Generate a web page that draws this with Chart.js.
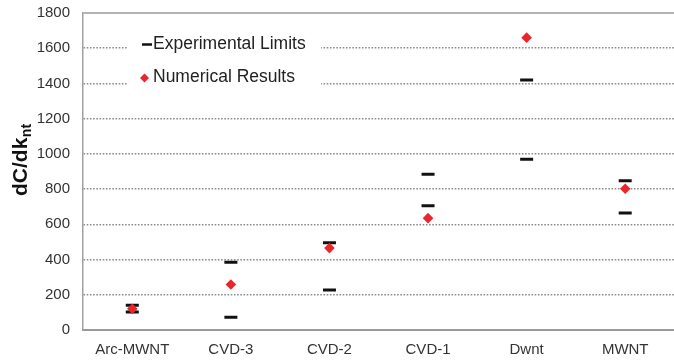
<!DOCTYPE html>
<html>
<head>
<meta charset="utf-8">
<script src="https://cdn.jsdelivr.net/npm/chart.js@4.4.1/dist/chart.umd.min.js"></script>
<style>
  html, body { margin: 0; padding: 0; background: #fff; overflow: hidden; }
  #wrap { width: 674px; height: 360px; overflow: hidden; }
  canvas { display: block; }
</style>
</head>
<body>
<div id="wrap"><canvas id="chart" width="684" height="360"></canvas></div>
<script>
// Nanotube types along the x axis
const categories = ['Arc-MWNT', 'CVD-3', 'CVD-2', 'CVD-1', 'Dwnt', 'MWNT'];
// Experimental bounds (upper and lower limit of each type)
const expUpper = [140, 385, 495, 885, 1420, 848];
const expLower = [102, 72, 227, 705, 970, 665];
// Values from the numerical model
const numerical = [120, 258, 465, 635, 1660, 802];
// Value axis range and step
const yMin = 0;
const yMax = 1800;
const yStep = 200;
// Texts
const legendLabels = ['Experimental Limits', 'Numerical Results'];
const yTitleMain = 'dC/dk';
const yTitleSub = 'nt';

const FONT = '"Liberation Sans", Arial, sans-serif';
const RED = '#e8262b';
const BLACK = '#111111';

// Solid line along the top of the plot area
const topFrame = {
  id: 'topFrame',
  beforeDatasetsDraw(chart) {
    const { ctx, chartArea } = chart;
    ctx.save();
    ctx.strokeStyle = '#b4b4b4';
    ctx.lineWidth = 2;
    ctx.beginPath();
    ctx.moveTo(chartArea.left, chartArea.top);
    ctx.lineTo(chartArea.right, chartArea.top);
    ctx.stroke();
    ctx.restore();
  }
};

// Legend box placed inside the plot area, upper left
const insideLegend = {
  id: 'insideLegend',
  beforeDatasetsDraw(chart) {
    const { ctx, chartArea } = chart;
    const x0 = chartArea.left;
    const y0 = chartArea.top;
    ctx.save();
    ctx.fillStyle = '#ffffff';
    ctx.fillRect(x0 + 44, y0 + 10, 194, 76);

    // dash marker
    ctx.strokeStyle = BLACK;
    ctx.lineWidth = 2.5;
    ctx.beginPath();
    ctx.moveTo(x0 + 59, y0 + 31.5);
    ctx.lineTo(x0 + 69, y0 + 31.5);
    ctx.stroke();

    // diamond marker
    const dx = x0 + 61.5, dy = y0 + 65, r = 4.5;
    ctx.fillStyle = RED;
    ctx.beginPath();
    ctx.moveTo(dx, dy - r);
    ctx.lineTo(dx + r, dy);
    ctx.lineTo(dx, dy + r);
    ctx.lineTo(dx - r, dy);
    ctx.closePath();
    ctx.fill();

    ctx.fillStyle = '#222222';
    ctx.font = '17.5px ' + FONT;
    ctx.textAlign = 'left';
    ctx.textBaseline = 'middle';
    ctx.fillText(legendLabels[0], x0 + 70, y0 + 31);
    ctx.fillText(legendLabels[1], x0 + 70, y0 + 64.5);
    ctx.restore();
  }
};

// Rotated y-axis title with subscript
const yTitle = {
  id: 'yTitle',
  afterDraw(chart) {
    const ctx = chart.ctx;
    ctx.save();
    ctx.translate(26.5, 196);
    ctx.rotate(-Math.PI / 2);
    ctx.fillStyle = BLACK;
    ctx.textAlign = 'left';
    ctx.textBaseline = 'alphabetic';
    ctx.font = 'bold 21px ' + FONT;
    ctx.fillText(yTitleMain, 0, 0);
    const w = ctx.measureText(yTitleMain).width;
    ctx.font = 'bold 14px ' + FONT;
    ctx.fillText(yTitleSub, w + 0.5, 4);
    ctx.restore();
  }
};

new Chart(document.getElementById('chart'), {
  type: 'line',
  data: {
    labels: categories,
    datasets: [
      {
        label: legendLabels[1],
        data: numerical,
        showLine: false,
        pointStyle: 'rectRot',
        pointRadius: 5.3,
        pointBackgroundColor: RED,
        pointBorderColor: RED,
        pointBorderWidth: 0,
        order: 0
      },
      {
        label: legendLabels[0],
        data: expUpper,
        showLine: false,
        pointStyle: 'line',
        pointRadius: 6.5,
        pointBorderColor: BLACK,
        pointBorderWidth: 3,
        order: 1
      },
      {
        label: legendLabels[0],
        data: expLower,
        showLine: false,
        pointStyle: 'line',
        pointRadius: 6.5,
        pointBorderColor: BLACK,
        pointBorderWidth: 3,
        order: 1
      }
    ]
  },
  options: {
    responsive: false,
    animation: false,
    events: [],
    layout: { padding: { top: 13, right: 2, left: 0, bottom: 0 } },
    plugins: {
      legend: { display: false },
      tooltip: { enabled: false }
    },
    scales: {
      x: {
        type: 'category',
        offset: true,
        grid: { display: false, drawTicks: false },
        border: { display: true, color: '#9a9a9a', width: 2 },
        ticks: {
          color: '#333333',
          font: { family: FONT, size: 15 },
          padding: 11,
          maxRotation: 0,
          autoSkip: false
        },
        afterFit(scale) {
          scale.height = 30;
          scale.paddingLeft = 0;
          scale.paddingRight = 0;
        }
      },
      y: {
        min: yMin,
        max: yMax,
        grid: {
          drawTicks: false,
          color: (ctx) => (ctx.tick && (ctx.tick.value === yMin || ctx.tick.value === yMax)) ? 'rgba(0,0,0,0)' : '#8c8c8c',
          lineWidth: 1.5
        },
        border: { display: true, color: '#a0a0a0', width: 1.5, dash: [1.6, 1.6] },
        ticks: {
          stepSize: yStep,
          color: '#333333',
          font: { family: FONT, size: 15 },
          padding: 13,
          callback: (v) => String(v)
        },
        afterFit(scale) {
          scale.width = 83;
          scale.paddingTop = 0;
          scale.paddingBottom = 0;
        }
      }
    }
  },
  plugins: [topFrame, insideLegend, yTitle]
});
</script>
</body>
</html>
